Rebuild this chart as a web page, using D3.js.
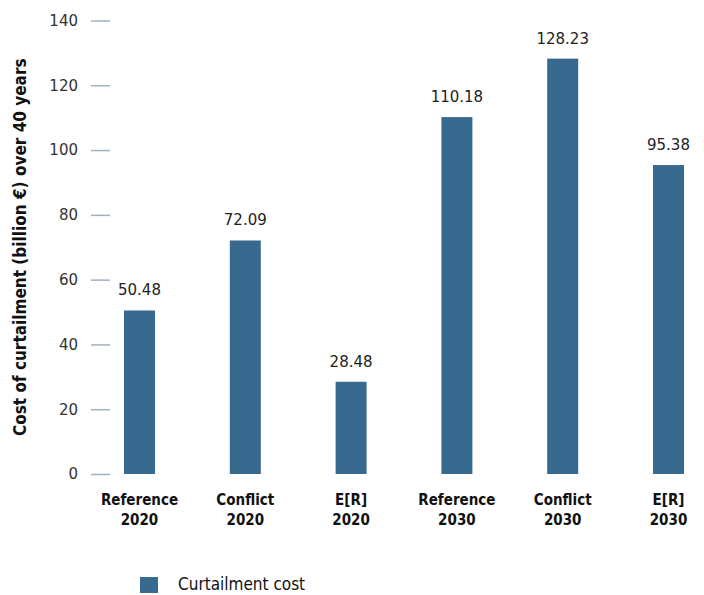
<!DOCTYPE html>
<html>
<head>
<meta charset="utf-8">
<script src="https://cdn.jsdelivr.net/npm/d3@7"></script>
<style>
  body { margin: 0; background: #fff; }
  svg { display: block; }
</style>
</head>
<body>
<div id="chart"></div>
<script>
// categories are two-line labels
const categories = [
  ['Reference', '2020'], ['Conflict', '2020'], ['E[R]', '2020'],
  ['Reference', '2030'], ['Conflict', '2030'], ['E[R]', '2030']
];
const costs = [50.48, 72.09, 28.48, 110.18, 128.23, 95.38];
const yTicks = [0, 20, 40, 60, 80, 100, 120, 140];
const seriesName = 'Curtailment cost';
const yTitle = 'Cost of curtailment (billion €) over 40 years';

const W = 704, H = 595;
const barColor = '#386a8f';
const condensed = '"Liberation Sans Narrow", "DejaVu Sans Condensed", sans-serif';

const svg = d3.select('#chart').append('svg')
    .attr('width', W)
    .attr('height', H);

const rows = categories.map((c, i) => ({ key: c.join(' '), lines: c, value: costs[i] }));

const x = d3.scaleBand()
    .domain(rows.map(d => d.key))
    .range([124, 684])
    .paddingInner(0.707)
    .paddingOuter(0);

const y = d3.scaleLinear()
    .domain([0, 140])
    .range([474, 20.5]);

// y axis: only short tick marks, no domain line
const yAxis = svg.append('g')
    .attr('transform', 'translate(110,0)')
    .call(d3.axisLeft(y).tickValues(yTicks).tickSize(19).tickPadding(13));
yAxis.select('.domain').remove();
yAxis.selectAll('.tick line').attr('stroke', '#9fb0c5').attr('stroke-width', 1.5);
yAxis.selectAll('.tick text')
    .attr('fill', '#333')
    .attr('font-family', '"DejaVu Sans", sans-serif')
    .attr('font-size', '15px');

svg.append('text')
    .attr('transform', `translate(26,${y(70)}) rotate(-90)`)
    .attr('text-anchor', 'middle')
    .attr('font-family', condensed)
    .attr('font-weight', 'bold')
    .attr('font-size', '17px')
    .attr('fill', '#111')
    .text(yTitle);

svg.append('g')
  .selectAll('rect')
  .data(rows)
  .join('rect')
    .attr('x', d => x(d.key))
    .attr('y', d => y(d.value))
    .attr('width', x.bandwidth())
    .attr('height', d => y(0) - y(d.value))
    .attr('fill', barColor);

svg.append('g')
  .selectAll('text')
  .data(rows)
  .join('text')
    .attr('x', d => x(d.key) + x.bandwidth() / 2)
    .attr('y', d => y(d.value) - 15)
    .attr('text-anchor', 'middle')
    .attr('font-family', '"DejaVu Sans", sans-serif')
    .attr('font-size', '15px')
    .attr('fill', '#222')
    .text(d => d.value.toFixed(2));

const catLabel = svg.append('g')
  .selectAll('text')
  .data(rows)
  .join('text')
    .attr('x', d => x(d.key) + x.bandwidth() / 2)
    .attr('y', 505)
    .attr('text-anchor', 'middle')
    .attr('font-family', condensed)
    .attr('font-weight', 'bold')
    .attr('font-size', '15px')
    .attr('fill', '#111');

catLabel.each(function(d) {
  const el = d3.select(this);
  d.lines.forEach((line, i) => {
    el.append('tspan')
        .attr('x', x(d.key) + x.bandwidth() / 2)
        .attr('dy', i ? '1.3em' : 0)
        .text(line);
  });
});

// legend
const legend = svg.append('g').attr('transform', 'translate(140,577)');
legend.append('rect')
    .attr('width', 18)
    .attr('height', 16)
    .attr('fill', barColor);
legend.append('text')
    .attr('x', 38)
    .attr('y', 13)
    .attr('font-family', condensed)
    .attr('font-size', '17px')
    .attr('fill', '#111')
    .text(seriesName);
</script>
</body>
</html>
